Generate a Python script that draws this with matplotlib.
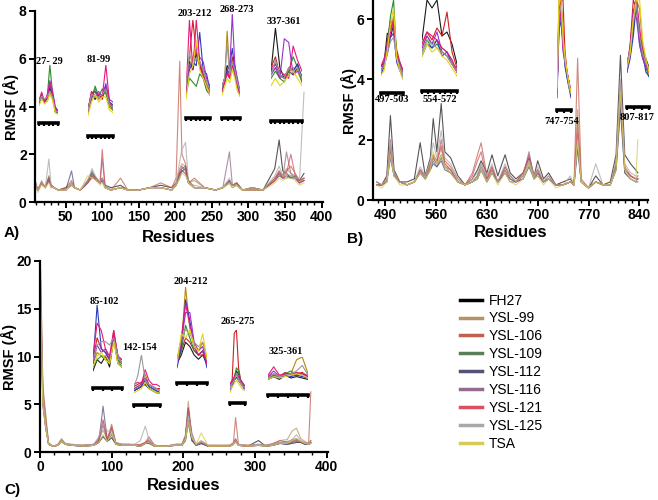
import numpy as np
import matplotlib
matplotlib.use('Agg')
import matplotlib.pyplot as plt

plt.rcParams['font.family'] = ['Liberation Sans', 'DejaVu Sans']

W, H = 658, 500

names = ['FH27', 'YSL-99', 'YSL-106', 'YSL-109', 'YSL-112', 'YSL-116', 'YSL-121', 'YSL-125', 'TSA']
main_colors = ['#1e1e1e', '#b39464', '#c0604e', '#5a7d5a', '#55527a', '#936b8e', '#d9505e', '#a8a8a8', '#d6cc55']
inset_colors = ['#1a1a1a', '#b8860b', '#cc2222', '#2e8b2e', '#2b3bbf', '#9932cc', '#e6197a', '#999999', '#e5d21a']

# ---- panel A: residue knots and RMSF per compound
a_res = [8, 12, 17, 22, 27, 30, 34, 40, 50, 58, 62, 70, 80, 86, 92, 97, 100, 104, 112, 125, 135, 150, 165, 180,
         195, 201, 206, 209, 214, 218, 226, 240, 255, 265, 274, 278, 284, 292, 305, 320, 336, 342, 347, 352, 358, 364, 370, 376]
a_fh27 = [0.9, 0.5, 0.8, 0.6, 1.0, 0.7, 0.6, 0.5, 0.6, 0.7, 0.6, 0.5, 0.9, 1.2, 1.0, 0.8, 1.0, 0.7, 0.6, 0.7, 0.5, 0.5, 0.6, 0.7,
          0.6, 0.8, 1.2, 1.3, 1.4, 0.9, 0.6, 0.6, 0.5, 0.6, 0.9, 0.7, 0.8, 0.5, 0.6, 0.5, 1.4, 2.6, 1.3, 1.2, 1.0, 1.1, 0.9, 1.2]
a_y99 = [0.8, 0.5, 0.9, 0.6, 0.9, 0.7, 0.6, 0.5, 0.5, 0.8, 0.6, 0.5, 0.8, 1.1, 1.0, 0.8, 0.9, 0.7, 0.5, 0.6, 0.5, 0.5, 0.6, 0.6,
         0.5, 0.7, 1.4, 1.6, 1.5, 0.8, 0.9, 0.6, 0.5, 0.6, 0.8, 0.7, 0.7, 0.5, 0.6, 0.5, 1.0, 1.2, 1.1, 1.4, 1.2, 1.1, 0.9, 1.0]
a_y106 = [0.7, 0.5, 0.8, 0.6, 0.9, 0.6, 0.6, 0.5, 0.6, 0.9, 0.6, 0.5, 0.8, 1.0, 1.0, 0.8, 1.0, 0.6, 0.5, 1.0, 0.5, 0.5, 0.6, 0.8,
          0.6, 1.0, 5.9, 2.0, 1.6, 0.8, 1.0, 0.6, 0.5, 0.6, 0.8, 0.7, 0.8, 0.5, 0.6, 0.5, 1.0, 1.3, 1.1, 1.3, 1.5, 1.2, 0.9, 1.0]
a_y109 = [0.7, 0.5, 0.8, 0.6, 1.1, 0.7, 0.6, 0.5, 0.5, 0.7, 0.6, 0.5, 0.8, 1.3, 0.9, 0.8, 0.9, 0.6, 0.5, 0.6, 0.5, 0.5, 0.6, 0.6,
          0.5, 0.7, 1.0, 1.3, 1.2, 0.8, 0.6, 0.6, 0.5, 0.6, 0.8, 0.6, 0.7, 0.5, 0.5, 0.5, 0.9, 1.1, 1.0, 1.0, 1.1, 1.0, 0.8, 0.9]
a_y112 = [0.7, 0.5, 0.8, 0.6, 0.9, 0.7, 0.6, 0.5, 0.5, 1.3, 0.6, 0.5, 0.8, 1.1, 0.9, 0.8, 0.9, 0.6, 0.5, 0.6, 0.5, 0.5, 0.6, 0.6,
          0.5, 0.7, 1.2, 1.4, 1.5, 0.8, 0.6, 0.6, 0.5, 0.6, 0.9, 0.7, 0.7, 0.5, 0.5, 0.5, 0.9, 1.2, 1.0, 1.1, 1.0, 1.0, 0.8, 0.9]
a_y116 = [0.7, 0.5, 0.8, 0.6, 0.9, 0.7, 0.6, 0.5, 0.5, 0.7, 0.6, 0.5, 0.8, 1.1, 0.9, 0.8, 1.8, 0.6, 0.5, 0.6, 0.5, 0.5, 0.6, 0.6,
          0.5, 0.7, 1.1, 1.3, 1.2, 0.8, 0.6, 0.6, 0.5, 0.6, 2.1, 0.7, 0.7, 0.5, 0.5, 0.5, 0.9, 1.1, 1.0, 2.1, 1.2, 1.0, 0.8, 0.9]
a_y121 = [0.8, 0.5, 0.8, 0.6, 1.0, 0.7, 0.6, 0.5, 0.5, 0.8, 0.6, 0.5, 0.8, 1.1, 0.9, 0.8, 2.2, 0.6, 0.5, 0.6, 0.5, 0.5, 0.6, 0.6,
          0.5, 0.8, 1.3, 1.5, 1.3, 0.8, 0.6, 0.6, 0.5, 0.6, 0.9, 0.7, 0.7, 0.5, 0.5, 0.5, 0.9, 1.3, 1.0, 1.2, 2.0, 1.1, 0.8, 1.0]
a_y125 = [0.9, 0.5, 0.8, 0.6, 1.8, 0.7, 0.6, 0.5, 0.5, 0.8, 0.6, 0.5, 0.9, 1.4, 1.0, 0.8, 1.0, 0.6, 0.5, 0.6, 0.5, 0.5, 0.6, 0.6,
          0.5, 0.8, 1.7, 2.2, 2.5, 0.8, 0.7, 0.6, 0.5, 0.6, 1.0, 0.7, 0.7, 0.5, 0.6, 0.5, 1.1, 1.5, 1.1, 1.2, 1.1, 1.0, 1.0, 4.6]
a_tsa = [0.7, 0.4, 0.7, 0.6, 0.8, 0.6, 0.6, 0.5, 0.5, 0.7, 0.6, 0.5, 1.1, 1.0, 0.9, 0.7, 0.8, 0.6, 0.5, 0.6, 0.5, 0.5, 0.6, 0.6,
         0.5, 0.7, 1.0, 1.2, 1.1, 0.8, 0.6, 0.6, 0.5, 0.6, 0.8, 0.6, 0.7, 0.5, 0.5, 0.5, 0.8, 1.0, 0.9, 1.0, 1.0, 0.9, 0.7, 0.8]

# ---- panel B
b_res = [478, 485, 492, 497, 502, 510, 520, 530, 538, 545, 552, 556, 561, 567, 572, 580, 590, 600, 610, 617, 622, 630, 637,
         645, 655, 662, 670, 680, 688, 695, 700, 708, 715, 725, 735, 745, 750, 755, 760, 770, 780, 790, 800, 808, 814, 820,
         828, 835, 838]
b_fh27 = [0.6, 0.5, 0.8, 2.8, 1.0, 0.6, 0.6, 0.7, 1.9, 0.8, 1.4, 2.7, 1.6, 3.2, 1.6, 1.4, 0.8, 0.5, 0.7, 1.0, 1.3, 0.9, 1.5,
          0.8, 1.5, 0.9, 0.7, 0.9, 1.4, 0.8, 1.3, 0.7, 0.9, 0.5, 0.6, 0.7, 0.5, 2.0, 0.6, 0.4, 0.8, 0.5, 0.6, 1.5, 4.8, 1.5,
          1.2, 1.0, 0.9]
b_y99 = [0.5, 0.5, 0.7, 1.8, 0.9, 0.6, 0.5, 0.6, 0.9, 0.7, 1.1, 1.5, 1.3, 1.7, 1.2, 1.0, 0.6, 0.5, 0.6, 0.8, 1.2, 0.7, 1.0,
         0.6, 1.0, 0.7, 0.6, 0.8, 1.3, 0.7, 0.9, 0.6, 0.7, 0.5, 0.5, 0.6, 0.5, 3.0, 0.6, 0.4, 0.6, 0.5, 0.5, 1.2, 3.8, 1.0,
         0.8, 0.7, 0.7]
b_y106 = [0.5, 0.5, 0.7, 1.6, 0.9, 0.6, 0.5, 0.6, 1.0, 0.8, 1.2, 1.4, 1.2, 2.0, 1.3, 1.1, 0.7, 0.5, 0.9, 1.5, 1.9, 0.8, 1.1,
          0.6, 1.1, 0.8, 0.6, 0.9, 1.5, 0.8, 1.0, 0.6, 0.7, 0.5, 0.5, 0.6, 0.5, 4.7, 0.7, 0.4, 0.6, 0.5, 0.5, 1.1, 3.5, 1.0,
          0.8, 0.7, 0.8]
b_y109 = [0.5, 0.5, 0.6, 1.5, 0.8, 0.6, 0.5, 0.6, 0.9, 0.7, 1.0, 1.3, 1.1, 1.4, 1.1, 0.9, 0.6, 0.5, 0.6, 0.7, 1.0, 0.6, 0.9,
          0.6, 0.9, 0.7, 0.6, 0.7, 1.2, 0.7, 0.9, 0.6, 0.7, 0.5, 0.5, 0.6, 0.5, 1.8, 0.6, 0.4, 0.6, 0.5, 0.5, 1.0, 3.2, 0.9,
          0.7, 0.6, 0.7]
b_y112 = [0.5, 0.5, 0.6, 1.4, 0.8, 0.6, 0.5, 0.6, 0.9, 0.7, 1.0, 1.2, 1.1, 1.3, 1.0, 0.9, 0.6, 0.5, 0.6, 0.7, 1.0, 0.6, 0.9,
          0.6, 0.9, 0.6, 0.6, 0.7, 1.1, 0.7, 0.8, 0.6, 0.7, 0.5, 0.5, 0.6, 0.5, 1.7, 0.6, 0.4, 0.6, 0.5, 0.5, 1.0, 3.0, 0.9,
          0.7, 0.6, 0.6]
b_y116 = [0.5, 0.5, 0.6, 1.7, 0.8, 0.6, 0.5, 0.6, 1.0, 0.7, 1.1, 1.4, 1.2, 1.5, 1.1, 1.0, 0.6, 0.5, 0.6, 0.8, 1.1, 0.7, 1.0,
          0.6, 1.0, 0.7, 0.6, 0.8, 1.6, 0.7, 0.9, 0.6, 0.7, 0.5, 0.5, 0.6, 0.5, 2.2, 0.6, 0.4, 0.6, 0.5, 0.5, 1.1, 3.6, 1.0,
          0.8, 0.7, 0.7]
b_y121 = [0.5, 0.5, 0.7, 2.0, 0.9, 0.6, 0.5, 0.6, 1.0, 0.8, 1.2, 1.5, 1.3, 1.8, 1.2, 1.0, 0.6, 0.5, 0.8, 1.3, 1.6, 0.7, 1.1,
          0.6, 1.1, 0.8, 0.6, 0.9, 1.4, 0.8, 1.0, 0.6, 0.8, 0.5, 0.5, 0.6, 0.5, 2.5, 0.6, 0.4, 0.6, 0.5, 0.5, 1.2, 3.9, 1.1,
          0.8, 0.7, 0.7]
b_y125 = [0.6, 0.5, 0.7, 1.9, 0.9, 0.6, 0.5, 0.6, 1.1, 0.8, 1.3, 1.9, 1.4, 2.3, 1.4, 1.2, 0.7, 0.5, 0.7, 0.9, 1.2, 0.8, 1.2,
          0.6, 1.2, 0.8, 0.6, 0.8, 1.3, 0.8, 1.1, 0.6, 0.8, 0.5, 0.5, 0.8, 0.5, 2.0, 0.6, 0.4, 1.2, 0.5, 0.5, 1.3, 4.0, 1.2,
          0.9, 0.8, 0.8]
b_tsa = [0.5, 0.4, 0.6, 1.5, 0.8, 0.5, 0.5, 0.6, 0.9, 0.7, 1.0, 1.6, 1.2, 1.5, 1.1, 0.9, 0.6, 0.5, 0.6, 0.7, 1.0, 0.6, 0.9,
         0.5, 0.9, 0.6, 0.5, 0.7, 1.2, 0.7, 0.8, 0.5, 0.7, 0.4, 0.5, 0.6, 0.5, 2.0, 0.6, 0.4, 0.6, 0.5, 0.5, 1.0, 3.6, 1.0,
         0.7, 0.6, 2.0]

# ---- panel C
c_res = [1, 4, 8, 12, 18, 25, 30, 35, 45, 60, 75, 82, 88, 94, 100, 106, 115, 125, 132, 140, 147, 152, 160, 175, 190, 198,
         203, 207, 212, 218, 225, 235, 250, 265, 270, 273, 277, 290, 305, 315, 325, 335, 345, 352, 358, 364, 370, 375, 378]
c_fh27 = [15, 6, 3, 0.8, 0.6, 0.7, 1.2, 0.8, 0.7, 0.6, 0.7, 1.0, 1.6, 1.1, 1.5, 0.8, 0.7, 0.7, 0.7, 0.6, 0.9, 0.9, 0.6, 0.6,
          0.7, 0.7, 1.2, 3.3, 1.2, 0.7, 0.9, 0.6, 0.6, 0.6, 0.9, 1.2, 0.7, 0.6, 1.2, 0.6, 0.7, 0.9, 0.8, 0.9, 1.0, 1.0, 0.8,
          0.8, 1.0]
c_y99 = [19, 7, 4, 1.0, 0.6, 0.8, 1.4, 0.9, 0.8, 0.7, 0.8, 1.3, 2.3, 1.3, 2.0, 1.0, 0.8, 0.8, 0.8, 0.7, 1.0, 1.1, 0.7, 0.6,
         0.8, 0.8, 1.8, 5.3, 1.6, 0.8, 1.2, 0.7, 0.7, 0.7, 1.0, 1.3, 0.8, 0.7, 0.8, 0.7, 0.8, 1.2, 1.3, 2.2, 2.5, 1.4, 1.1,
         0.9, 1.2]
c_y106 = [18, 6.5, 3.5, 0.9, 0.6, 0.8, 1.3, 0.9, 0.7, 0.7, 0.8, 1.2, 3.2, 1.3, 2.9, 0.9, 0.8, 0.8, 0.7, 0.7, 1.0, 1.3, 0.7,
          0.6, 0.8, 0.8, 1.5, 4.6, 1.4, 0.8, 1.0, 0.7, 0.7, 0.7, 0.9, 3.6, 0.8, 0.7, 0.8, 0.7, 0.8, 1.0, 1.1, 1.2, 1.3, 1.1,
          0.9, 0.9, 6.3]
c_y109 = [15, 5, 2.5, 0.8, 0.6, 0.7, 1.1, 0.8, 0.7, 0.6, 0.7, 1.0, 1.7, 1.1, 2.5, 0.8, 0.7, 0.7, 0.7, 0.6, 0.9, 1.0, 0.6, 0.6,
          0.7, 0.7, 1.2, 3.0, 1.2, 0.7, 0.9, 0.6, 0.6, 0.6, 0.8, 1.3, 0.7, 0.6, 0.7, 0.6, 0.7, 0.9, 0.9, 1.3, 1.4, 1.1, 0.9,
          0.8, 1.0]
c_y112 = [15, 5, 2.5, 0.8, 0.6, 0.7, 1.1, 0.8, 0.7, 0.6, 0.7, 1.0, 4.8, 1.2, 1.8, 0.8, 0.7, 0.7, 0.7, 0.6, 0.9, 1.0, 0.6, 0.6,
          0.7, 0.7, 1.5, 4.6, 1.3, 0.7, 0.9, 0.6, 0.6, 0.6, 0.8, 1.1, 0.7, 0.6, 0.7, 0.6, 0.7, 0.9, 0.8, 1.0, 1.1, 1.0, 0.8,
          0.8, 0.9]
c_y116 = [15, 5, 2.5, 0.8, 0.6, 0.7, 1.2, 0.8, 0.7, 0.6, 0.7, 1.1, 2.8, 1.2, 2.4, 0.8, 0.7, 0.7, 0.7, 0.6, 0.9, 1.2, 0.6, 0.6,
          0.7, 0.7, 1.6, 4.3, 2.0, 0.7, 1.0, 0.6, 0.6, 0.6, 0.8, 1.2, 0.7, 0.6, 0.7, 0.6, 0.7, 1.0, 0.9, 1.1, 1.2, 1.1, 0.9,
          0.8, 1.0]
c_y121 = [16, 6, 3, 0.9, 0.6, 0.7, 1.2, 0.9, 0.7, 0.7, 0.8, 1.4, 3.4, 1.4, 2.6, 0.9, 0.8, 0.8, 0.7, 0.8, 1.0, 1.6, 0.7, 0.6,
          0.8, 0.8, 1.6, 4.5, 1.5, 0.8, 1.0, 0.6, 0.6, 0.7, 0.9, 1.4, 0.7, 0.6, 0.7, 0.7, 0.9, 1.2, 1.0, 1.1, 1.3, 1.1, 0.9,
          0.9, 1.2]
c_y125 = [17, 6, 3, 0.9, 0.6, 0.8, 1.3, 0.9, 0.8, 0.7, 0.8, 1.6, 3.0, 2.2, 2.2, 1.0, 0.8, 0.8, 0.8, 1.2, 2.7, 1.3, 0.7, 0.6,
          0.8, 0.8, 1.4, 3.8, 1.6, 0.8, 1.1, 0.7, 0.7, 0.7, 0.9, 1.2, 0.8, 0.7, 0.8, 0.7, 0.8, 1.0, 1.0, 1.3, 1.8, 1.2, 1.0,
          0.9, 1.1]
c_tsa = [15, 5, 2.5, 0.8, 0.6, 0.7, 1.1, 0.8, 0.7, 0.6, 0.7, 1.0, 1.8, 1.1, 2.0, 0.8, 0.7, 0.7, 0.7, 0.6, 0.9, 1.0, 0.6, 0.6,
         0.7, 0.7, 1.3, 3.2, 1.5, 0.8, 2.0, 0.6, 0.6, 0.6, 0.8, 1.0, 0.7, 0.6, 0.7, 0.6, 0.7, 0.9, 0.9, 1.2, 1.4, 1.1, 0.9,
         0.8, 0.9]

# ---- zoomed inset traces (relative height inside each inset), order as in names
ins_a1 = [[.30, .40, .30, .35, .55, .40, .15, .12], [.25, .35, .30, .30, .45, .35, .10, .08],
          [.30, .42, .28, .38, .50, .38, .12, .10], [.25, .38, .30, .35, 1.0, .45, .10, .08],
          [.28, .40, .32, .36, .60, .42, .15, .10], [.30, .45, .30, .40, .70, .50, .20, .12],
          [.32, .48, .28, .42, .65, .45, .15, .10], [.30, .40, .35, .38, .50, .38, .12, .10],
          [.22, .35, .25, .30, .45, .32, .08, .05]]
ins_a2 = [[.15, .45, .35, .45, .40, .55, .25, .20], [.10, .40, .55, .35, .45, .50, .20, .15],
          [.15, .50, .40, .45, .35, .60, .30, .20], [.20, .35, .60, .40, .55, .45, .25, .15],
          [.15, .45, .50, .40, .45, .60, .30, .25], [.10, .40, .45, .50, .40, .65, .35, .30],
          [.15, .50, .40, .45, .40, 1.0, .30, .20], [.15, .45, .40, .40, .45, .55, .25, .20],
          [.05, .30, .45, .30, .40, .40, .15, .10]]
ins_a3 = [[.15, .50, .40, .60, .45, .35, .20, .15], [.20, .45, .55, .70, .50, .40, .25, .10],
          [.15, .55, 1.0, .60, .45, .30, .20, .15], [.10, .30, .25, .20, .35, .30, .15, .10],
          [.20, .40, .50, .45, .85, .40, .35, .15], [.15, .45, .50, .65, .55, .50, .30, .20],
          [.10, 1.0, .40, 1.0, .50, .35, .20, .10], [.20, .60, .45, .55, .50, .40, .25, .15],
          [.05, .35, .45, .75, .40, .30, .20, .10]]
ins_a4 = [[.15, .25, .40, .35, .45, .40, .20, .10], [.10, .20, .80, .30, .40, .35, .20, .05],
          [.15, .20, .35, .25, .50, .30, .15, .10], [.10, .25, .30, .35, .45, .30, .20, .10],
          [.15, .20, .35, .40, .60, .35, .20, .10], [.15, .25, .30, .35, 1.0, .40, .25, .10],
          [.10, .20, .30, .25, .40, .30, .15, .05], [.15, .25, .65, .30, .45, .35, .20, .10],
          [.05, .15, .25, .20, .35, .25, .10, .05]]
ins_a5 = [[.40, 1.0, .45, .30, .40, .35, .45, .30], [.35, .45, .30, .35, .40, .45, .40, .25],
          [.45, .60, .35, .30, .45, .40, .50, .30], [.30, .40, .30, .25, .40, .60, .45, .25],
          [.40, .50, .35, .30, .35, .40, .50, .30], [.35, .45, .30, .85, .80, .35, .40, .35],
          [.45, .50, .40, .35, .30, .75, .55, .40], [.35, .55, .35, .30, .45, .40, .45, .30],
          [.20, .30, .20, .25, .35, .40, .30, .20]]
ins_b1 = [[.20, .25, .60, .55, .70, .30, .20, .10], [.15, .20, .40, .65, .80, .35, .20, .10],
          [.20, .25, .50, .75, .70, .40, .25, .15], [.15, .20, .45, .80, 1.0, .30, .25, .10],
          [.10, .20, .35, .55, .60, .25, .15, .05], [.15, .25, .45, .70, .65, .35, .20, .10],
          [.20, .30, .40, .60, .75, .30, .25, .15], [.15, .20, .35, .50, .55, .30, .20, .10],
          [.10, .15, .40, .70, .90, .30, .15, .05]]
ins_b2 = [[.50, 1.0, .90, 1.0, .55, .60, .45, .20], [.40, .55, .45, .50, .40, .35, .25, .10],
          [.45, .60, .50, .65, .55, .85, .35, .15], [.35, .50, .40, .45, .35, .30, .20, .10],
          [.30, .45, .40, .50, .30, .35, .20, .10], [.40, .55, .45, .60, .35, .30, .20, .15],
          [.45, .60, .55, .50, .40, .35, .25, .10], [.35, .50, .45, .40, .35, .30, .20, .10],
          [.30, .45, .35, .40, .30, .25, .15, .05]]
ins_b3 = [[.10, .90, 1.0, .60, .40, .30, .20, .10], [.20, 1.0, 1.0, .70, .45, .30, .20, .10],
          [.10, .80, 1.0, 1.0, .50, .30, .20, .10], [.15, .85, .90, .55, .40, .25, .15, .10],
          [.05, .70, .80, .60, .35, .25, .15, .05], [.10, .75, .85, .50, .40, .30, .20, .10],
          [.10, .80, .90, .55, .45, .30, .20, .10], [.10, .85, .95, .60, .40, .30, .15, .10],
          [.15, 1.0, 1.0, .65, .45, .30, .20, .10]]
ins_b4 = [[.30, .45, .70, 1.0, .60, .45, .35, .25], [.25, .40, .80, 1.0, .90, .50, .30, .20],
          [.20, .50, 1.0, .90, .60, .40, .30, .20], [.25, .40, .70, 1.0, .50, .35, .25, .15],
          [.20, .35, .60, .95, .55, .40, .20, .15], [.20, .45, .90, .80, .50, .35, .25, .20],
          [.25, .50, .85, 1.0, .70, .40, .30, .20], [.30, .45, .75, .95, .60, .40, .30, .25],
          [.25, .40, .80, 1.0, 1.0, .55, .35, .20]]
ins_c1 = [[.10, .25, .20, .30, .15, .55, .20, .15], [.20, .35, .30, .30, .20, .60, .25, .20],
          [.25, .55, .40, .35, .25, .65, .30, .20], [.15, .25, .30, .25, .20, .50, .25, .15],
          [.20, 1.0, .40, .35, .25, .55, .30, .20], [.20, .45, .35, .40, .25, .60, .30, .25],
          [.30, .75, .65, .40, .30, .65, .30, .25], [.25, .45, .50, .50, .45, .55, .30, .20],
          [.15, .30, .35, .25, .20, .50, .20, .15]]
ins_c2 = [[.15, .20, .25, .30, .20, .15, .10, .10], [.20, .25, .30, .55, .30, .25, .20, .15],
          [.25, .30, .35, .45, .30, .25, .20, .20], [.15, .20, .25, .35, .25, .20, .15, .10],
          [.15, .20, .25, .40, .25, .20, .15, .10], [.20, .25, .30, .45, .30, .25, .20, .15],
          [.30, .35, .30, .65, .40, .30, .30, .25], [.25, .50, 1.0, .40, .30, .25, .20, .15],
          [.10, .15, .20, .35, .20, .15, .10, .10]]
ins_c3 = [[.10, .20, .35, .30, .20, .15, .20, .10], [.15, .30, 1.0, .50, .30, .25, .35, .15],
          [.10, .25, .40, .35, .25, .20, .20, .10], [.10, .25, .55, .40, .25, .20, .25, .10],
          [.05, .30, .85, .60, .30, .20, .25, .05], [.10, .35, .70, .70, .35, .25, .30, .10],
          [.10, .40, .80, .55, .30, .20, .25, .10], [.15, .40, .50, .45, .35, .30, .35, .15],
          [.10, .45, .40, .50, .30, .25, .45, .15]]
ins_c4 = [[.10, .15, .25, .35, .30, .20, .15, .10], [.10, .15, .20, .25, .20, .15, .10, .10],
          [.10, .20, .95, 1.0, .40, .20, .15, .10], [.10, .15, .25, .40, .35, .20, .15, .10],
          [.05, .10, .20, .25, .20, .15, .10, .05], [.10, .20, .25, .30, .25, .20, .15, .10],
          [.15, .20, .25, .30, .25, .20, .15, .10], [.10, .15, .20, .30, .20, .15, .10, .10],
          [.00, .10, .15, .20, .15, .10, .05, .05]]
ins_c5 = [[.20, .30, .20, .35, .25, .30, .25, .20], [.25, .35, .30, .40, .40, .90, 1.0, .40],
          [.30, .40, .30, .45, .35, .40, .45, .30], [.25, .35, .30, .40, .50, .35, .40, .30],
          [.20, .30, .25, .35, .30, .35, .30, .25], [.30, .50, .30, .40, .35, .40, .35, .30],
          [.35, .65, .35, .40, .40, .45, .40, .35], [.25, .40, .30, .35, .40, .50, .70, .35],
          [.20, .30, .25, .30, .35, .40, .35, .25]]


def px_rect(x0, y0, x1, y1):
    return [x0 / W, 1 - y1 / H, (x1 - x0) / W, (y1 - y0) / H]


def style_main(ax):
    for s in ['top', 'right']:
        ax.spines[s].set_visible(False)
    for s in ['left', 'bottom']:
        ax.spines[s].set_linewidth(1.6)
    ax.tick_params(axis='both', width=1.4, length=4, labelsize=10, pad=2)
    ax.tick_params(axis='x', which='minor', width=1.0, length=2.5)
    for t in ax.get_xticklabels() + ax.get_yticklabels():
        t.set_fontweight('bold')
    ax.set_xlabel('Residues', fontsize=12, fontweight='bold')
    ax.set_ylabel('RMSF (Å)', fontsize=10.5, fontweight='bold')


def add_inset(rect, traces, label, label_xy, bar_gap, nticks):
    ax = fig.add_axes(px_rect(*rect))
    for vals, col in zip(traces, inset_colors):
        ax.plot(range(len(vals)), vals, color=col, lw=0.8)
    ax.set_xlim(0, len(traces[0]) - 1)
    ax.set_ylim(0, 1)
    ax.patch.set_visible(False)
    for s in ['top', 'right', 'left']:
        ax.spines[s].set_visible(False)
    ax.spines['bottom'].set_linewidth(2.6)
    ax.spines['bottom'].set_position(('outward', bar_gap * 0.72))
    ax.set_xticks(np.linspace(0, len(traces[0]) - 1, nticks))
    ax.set_yticks([])
    ax.tick_params(axis='x', length=2.5, width=1.6, labelbottom=False)
    fig.text(label_xy[0] / W, 1 - label_xy[1] / H, label, ha='center', va='center',
             fontsize=7.5, fontweight='bold', family=['Liberation Serif', 'DejaVu Serif'])


fig = plt.figure(figsize=(W / 100, H / 100), dpi=100)

axA = fig.add_axes(px_rect(35, 11, 323, 202))
for vals, col in zip([a_fh27, a_y99, a_y106, a_y109, a_y112, a_y116, a_y121, a_y125, a_tsa], main_colors):
    axA.plot(a_res, vals, color=col, lw=0.8, alpha=0.75)
axA.set_xlim(8, 402)
axA.set_ylim(0, 8)
axA.set_xticks([50, 100, 150, 200, 250, 300, 350, 400])
axA.set_xticks(np.arange(10, 401, 10), minor=True)
axA.set_yticks([0, 2, 4, 6, 8])
style_main(axA)
axA.xaxis.set_label_coords(0.5, -0.147)
axA.yaxis.set_label_coords(-0.055, 0.5)

axB = fig.add_axes(px_rect(373, 1, 648, 200))
for vals, col in zip([b_fh27, b_y99, b_y106, b_y109, b_y112, b_y116, b_y121, b_y125, b_tsa], main_colors):
    axB.plot(b_res, vals, color=col, lw=0.8, alpha=0.75)
axB.set_xlim(473, 852)
axB.set_ylim(0, 6.6)
axB.set_xticks([490, 560, 630, 700, 770, 840])
axB.set_xticks(np.arange(480, 851, 10), minor=True)
axB.set_yticks([0, 2, 4, 6])
style_main(axB)
axB.xaxis.set_label_coords(0.5, -0.126)
axB.yaxis.set_label_coords(-0.058, 0.5)

axC = fig.add_axes(px_rect(40, 261, 328, 452))
lines = []
for vals, col, nm in zip([c_fh27, c_y99, c_y106, c_y109, c_y112, c_y116, c_y121, c_y125, c_tsa], main_colors, names):
    ln, = axC.plot(c_res, vals, color=col, lw=0.8, alpha=0.75, label=nm)
    lines.append(ln)
axC.set_xlim(0, 402)
axC.set_ylim(0, 20)
axC.set_xticks([0, 100, 200, 300, 400])
axC.set_xticks(np.arange(20, 401, 20), minor=True)
axC.set_yticks([0, 5, 10, 15, 20])
style_main(axC)
axC.xaxis.set_label_coords(0.5, -0.136)
axC.yaxis.set_label_coords(-0.08, 0.5)

# panel letters
fig.text(4 / W, 1 - 233 / H, 'A)', fontsize=11, fontweight='bold', va='center')
fig.text(347 / W, 1 - 239 / H, 'B)', fontsize=11, fontweight='bold', va='center')
fig.text(4 / W, 1 - 490 / H, 'C)', fontsize=11, fontweight='bold', va='center')

# insets
add_inset((39, 65, 58, 117), ins_a1, '27- 29', (49, 62), 6, 5)
add_inset((88, 65, 113, 118), ins_a2, '81-99', (99, 60), 18, 7)
add_inset((186, 20, 210, 103), ins_a3, '203-212', (195, 14), 15, 6)
add_inset((222, 14, 240, 100), ins_a4, '268-273', (237, 10), 18, 4)
add_inset((271, 28, 302, 100), ins_a5, '337-361', (284, 22), 21, 8)
add_inset((381, 0, 403, 83), ins_b1, '497-503', (392, 100), 10, 4)
add_inset((422, 0, 457, 80), ins_b2, '554-572', (440, 100), 11, 7)
add_inset((557, 0, 571, 103), ins_b3, '747-754', (562, 122), 7, 3)
add_inset((627, 0, 649, 90), ins_b4, '807-817', (637, 118), 17, 4)
add_inset((93, 305, 122, 378), ins_c1, '85-102', (104, 302), 10, 4)
add_inset((134, 355, 160, 397), ins_c2, '142-154', (140, 348), 8, 3)
add_inset((177, 287, 207, 372), ins_c3, '204-212', (191, 282), 11, 4)
add_inset((230, 330, 245, 393), ins_c4, '265-275', (238, 322), 10, 2)
add_inset((268, 357, 308, 385), ins_c5, '325-361', (286, 352), 10, 5)

leg_handles = []
for ln in lines:
    h = plt.Line2D([], [], color=ln.get_color(), lw=2.5, label=ln.get_label())
    leg_handles.append(h)
leg_handles[0].set_color('black')
fig.legend(handles=leg_handles, loc='upper left', bbox_to_anchor=(447 / W, 1 - 281 / H),
           frameon=False, fontsize=10, handlelength=1.6, handletextpad=0.5, labelspacing=0.28)

fig.savefig('out.png', dpi=100)
